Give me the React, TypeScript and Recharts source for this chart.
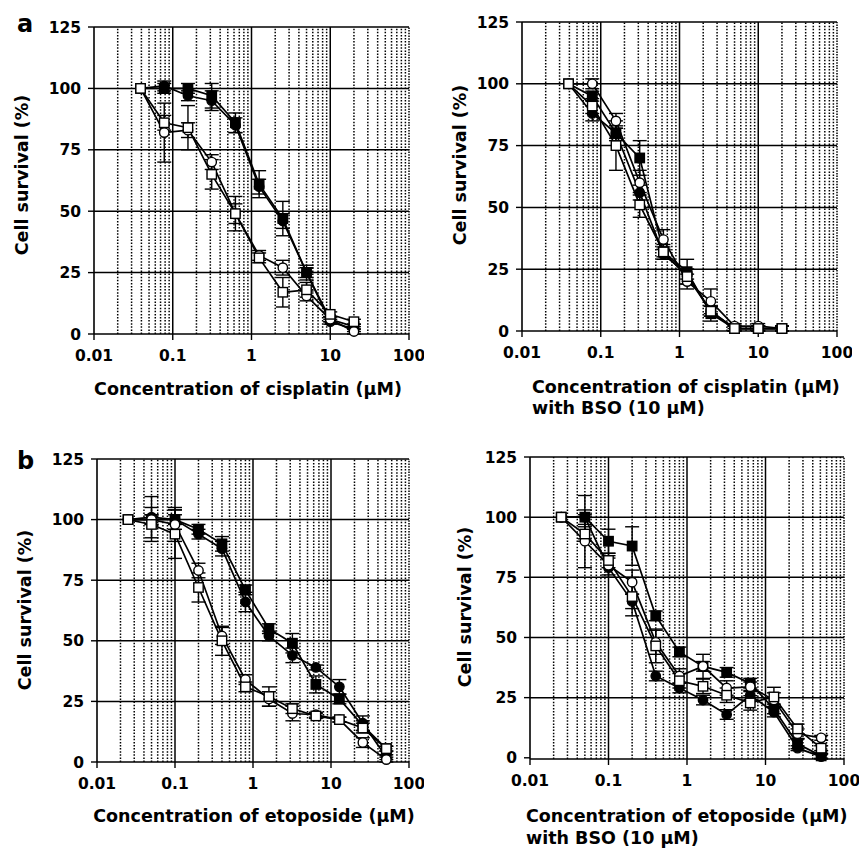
import React from 'react';
import { LineChart, Line, XAxis, YAxis, ReferenceLine, ErrorBar } from 'recharts';

// concentrations (µM)
const X_CIS = [0.039, 0.078, 0.156, 0.3125, 0.625, 1.25, 2.5, 5, 10, 20];
const X_ETO = [0.025, 0.05, 0.1, 0.2, 0.4, 0.8, 1.6, 3.2, 6.4, 12.8, 25.6, 51.2];

const X_TICKS = [0.01, 0.1, 1, 10, 100];
const Y_TICKS = [0, 25, 50, 75, 100, 125];

// a: cisplatin
const A_OC = [100, 82, 83, 70, 49, 32, 27, 15.5, 6, 1];
const A_OC_ERR = [0, 12, 3, 3, 4, 2, 3, 2, 1, 1];
const A_OS = [100, 86, 84, 65, 49, 31, 17, 18, 8, 5];
const A_OS_ERR = [0, 3, 9, 6, 7, 2, 6, 3, 1, 1];
const A_FC = [100, 101, 97, 95, 85, 60, 46, 25, 5, 2];
const A_FC_ERR = [0, 2, 2, 4, 3, 3, 3, 2, 1, 1];
const A_FS = [100, 100, 100, 97, 86, 61, 47, 25, 6, 3];
const A_FS_ERR = [0, 2, 2, 5, 4, 5.5, 7, 3, 1, 1];

// a: cisplatin with BSO
const B_OC = [100, 100, 85, 60, 37, 20, 12, 2, 2, 1];
const B_OC_ERR = [0, 2, 3, 5, 4, 3, 5, 1, 1, 1];
const B_OS = [100, 91, 75, 51, 32, 22, 8, 1, 1, 1];
const B_OS_ERR = [0, 3, 10, 5, 3, 3, 2, 1, 1, 1];
const B_FC = [100, 88, 80, 56, 31, 23, 8, 1, 1, 1];
const B_FC_ERR = [0, 3, 2, 3, 2, 2, 2, 1, 1, 1];
const B_FS = [100, 95, 80, 70, 32, 24, 7, 1, 1, 1];
const B_FS_ERR = [0, 2, 3, 7, 2, 5, 3, 1, 1, 1];

// b: etoposide
const C_OC = [100, 100, 98, 79, 52, 34, 26, 20, 19.5, 17.5, 8, 1];
const C_OC_ERR = [0, 2, 7, 3, 3.5, 2, 3, 3, 1, 1, 2, 1];
const C_OS = [100, 98, 94, 72, 50, 31, 27, 22, 19, 17.5, 14, 5.5];
const C_OS_ERR = [0, 7, 10, 6, 6, 2, 4, 2, 1, 1, 2, 1];
const C_FC = [100, 101, 100, 94, 88, 66, 52, 44, 39, 31, 16, 2];
const C_FC_ERR = [0, 8.5, 4, 2, 3, 4, 2, 3, 1, 3, 3, 1];
const C_FS = [100, 100, 100, 96, 90, 71, 55, 49, 32, 26, 15, 5.5];
const C_FS_ERR = [0, 2, 2, 2, 3, 2, 2, 4, 3.5, 2, 2, 1];

// b: etoposide with BSO
const D_OC = [100, 90, 80, 73, 48, 34, 38, 29, 29.5, 24, 10, 8.3];
const D_OC_ERR = [0, 11, 4, 5, 5, 3, 5, 3, 2, 3, 2, 1];
const D_OS = [100, 93, 82, 67, 46.5, 32, 29.7, 26, 22.8, 25.3, 12, 4];
const D_OS_ERR = [0, 3, 3, 8, 7, 3, 3, 3, 3, 4, 2, 1];
const D_FC = [100, 100, 79, 65, 34, 29, 24, 18, 26, 19, 4, 0.5];
const D_FC_ERR = [0, 9, 4, 3, 2, 2, 2, 2, 2, 2, 1, 1];
const D_FS = [100, 100, 90, 88, 59, 44, 38, 35.5, 31, 20.3, 5.8, 0.8];
const D_FS_ERR = [0, 3, 5, 8, 2, 2, 2, 2, 2, 2, 2, 1];

const MINOR: number[] = [];
[0.01, 0.1, 1, 10].forEach(d => { for (let k = 2; k <= 9; k++) MINOR.push(d * k); });
const MAJOR = [0.1, 1, 10];
const HORIZ = [25, 50, 75, 100, 125];

const FONT = '"DejaVu Sans", Arial, Helvetica, sans-serif';
const TICK = { fill: '#000', fontSize: 15.5, fontWeight: 700, fontFamily: FONT };

const buildRows = (xs: number[], oc: number[], ocE: number[], os: number[], osE: number[],
  fc: number[], fcE: number[], fs: number[], fsE: number[]) =>
  xs.map((x, i) => ({
    x,
    fc: fc[i], fcE: fcE[i],
    fs: fs[i], fsE: fsE[i],
    oc: oc[i], ocE: ocE[i],
    os: os[i], osE: osE[i],
  }));

// drawing order: filled first, open squares last (on top)
const SERIES = [
  { key: 'fc', shape: 'circle', fill: '#000' },
  { key: 'fs', shape: 'square', fill: '#000' },
  { key: 'oc', shape: 'circle', fill: '#fff' },
  { key: 'os', shape: 'square', fill: '#fff' },
];

const makeDot = (shape: string, fill: string) => (props: any) => {
  const { cx, cy, index } = props;
  if (cx == null || cy == null) return <g key={index} />;
  if (shape === 'circle') {
    return <circle key={index} cx={cx} cy={cy} r={4.7} fill={fill} stroke="#000" strokeWidth={1.4} />;
  }
  return <rect key={index} x={cx - 4.7} y={cy - 4.7} width={9.4} height={9.4} fill={fill} stroke="#000" strokeWidth={1.4} />;
};

interface PanelProps { left: number; top: number; w: number; h: number; rows: any[] }

const Panel: React.FC<PanelProps> = ({ left, top, w, h, rows }) => (
  <div style={{ position: 'absolute', left: left - 70, top: top - 15 }}>
    <LineChart width={w + 85} height={h + 45} data={rows} margin={{ top: 15, right: 15, bottom: 0, left: 0 }}>
      <XAxis
        dataKey="x" type="number" scale="log" domain={[0.01, 100]} ticks={X_TICKS} interval={0}
        allowDataOverflow tickFormatter={(v: number) => String(v)}
        axisLine={{ stroke: '#000', strokeWidth: 1.6 }} tickLine={{ stroke: '#000', strokeWidth: 1.4 }}
        tickSize={6} tickMargin={10} tick={TICK} height={30}
      />
      <YAxis
        type="number" domain={[0, 125]} ticks={Y_TICKS} interval={0} width={70}
        axisLine={{ stroke: '#000', strokeWidth: 1.6 }} tickLine={{ stroke: '#000', strokeWidth: 1.4 }}
        tickSize={6} tickMargin={7} tick={TICK}
      />
      {MINOR.map(v => (
        <ReferenceLine key={'m' + v} x={v} stroke="#000" strokeWidth={1.5} strokeDasharray="1.5 1.6" />
      ))}
      <ReferenceLine x={100} stroke="#000" strokeWidth={1.5} strokeDasharray="1.5 1.2" />
      {MAJOR.map(v => (
        <ReferenceLine key={'M' + v} x={v} stroke="#000" strokeWidth={1.5} />
      ))}
      {HORIZ.map(v => (
        <ReferenceLine key={'h' + v} y={v} stroke="#000" strokeWidth={1.5} />
      ))}
      {SERIES.map(s => (
        <Line
          key={s.key} dataKey={s.key} stroke="#000" strokeWidth={1.7}
          dot={makeDot(s.shape, s.fill)} activeDot={false} isAnimationActive={false}
        >
          <ErrorBar dataKey={s.key + 'E'} width={7} stroke="#000" strokeWidth={1.4} direction="y" />
        </Line>
      ))}
    </LineChart>
  </div>
);

const txt: React.CSSProperties = {
  position: 'absolute', fontFamily: FONT, fontWeight: 700, fontSize: 17.5,
  color: '#000', whiteSpace: 'nowrap', lineHeight: '21px',
};

const YLabel = ({ cx, cy }: { cx: number; cy: number }) => (
  <div style={{ ...txt, left: cx - 100, top: cy - 10, width: 200, height: 20, textAlign: 'center', transform: 'rotate(-90deg)' }}>
    Cell survival (%)
  </div>
);

export default function App() {
  const rowsA = buildRows(X_CIS, A_OC, A_OC_ERR, A_OS, A_OS_ERR, A_FC, A_FC_ERR, A_FS, A_FS_ERR);
  const rowsB = buildRows(X_CIS, B_OC, B_OC_ERR, B_OS, B_OS_ERR, B_FC, B_FC_ERR, B_FS, B_FS_ERR);
  const rowsC = buildRows(X_ETO, C_OC, C_OC_ERR, C_OS, C_OS_ERR, C_FC, C_FC_ERR, C_FS, C_FS_ERR);
  const rowsD = buildRows(X_ETO, D_OC, D_OC_ERR, D_OS, D_OS_ERR, D_FC, D_FC_ERR, D_FS, D_FS_ERR);

  return (
    <div style={{ position: 'absolute', left: 0, top: 0, width: 864, height: 852, background: '#fff', overflow: 'hidden' }}>
      <Panel left={94} top={27} w={315} h={307} rows={rowsA} />
      <Panel left={522} top={22} w={315} h={309} rows={rowsB} />
      <Panel left={97} top={459} w={312} h={303} rows={rowsC} />
      <Panel left={530} top={457} w={314} h={302} rows={rowsD} />

      <div style={{ ...txt, fontSize: 24, left: 17, top: 9, lineHeight: '30px' }}>a</div>
      <div style={{ ...txt, fontSize: 24, left: 17, top: 446, lineHeight: '30px' }}>b</div>

      <YLabel cx={22} cy={175} />
      <YLabel cx={460} cy={165} />
      <YLabel cx={25} cy={610} />
      <YLabel cx={465} cy={607} />

      <div style={{ ...txt, left: 48, width: 400, textAlign: 'center', top: 379 }}>Concentration of cisplatin (µM)</div>
      <div style={{ ...txt, left: 532, top: 377 }}>
        Concentration of cisplatin (µM)<br />with BSO (10 µM)
      </div>
      <div style={{ ...txt, left: 54, width: 400, textAlign: 'center', top: 806 }}>Concentration of etoposide (µM)</div>
      <div style={{ ...txt, left: 526, top: 805, lineHeight: '22px' }}>
        Concentration of etoposide (µM)<br />with BSO (10 µM)
      </div>
    </div>
  );
}
